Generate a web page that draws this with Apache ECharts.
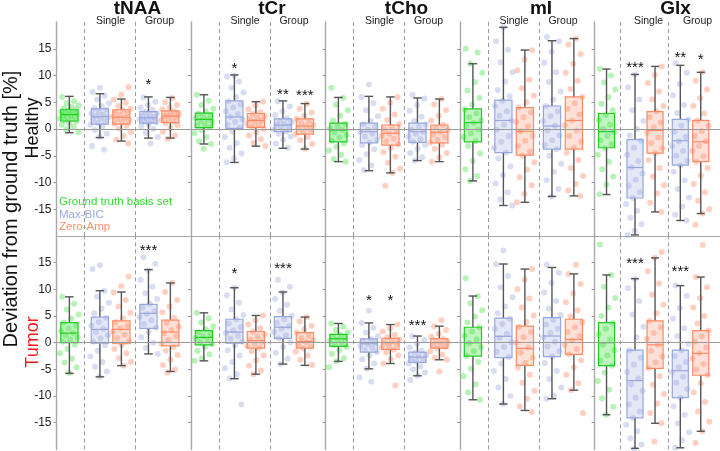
<!DOCTYPE html>
<html><head><meta charset="utf-8">
<script src="https://cdn.jsdelivr.net/npm/echarts@6/dist/echarts.min.js"></script>
<style>html,body{margin:0;padding:0;background:#fff}#c{width:720px;height:451px}</style>
</head><body><div id="c"></div>
<script>
// ---------------- DATA ----------------
const metabolites = ['tNAA', 'tCr', 'tCho', 'mI', 'Glx'];
const rowLabels = ['Healthy', 'Tumor'];
const methodLabels = ['Ground truth basis set', 'Max-BIC', 'Zero-Amp'];
const groupLabels = ['Single', 'Group'];
const yTicks = [-15, -10, -5, 0, 5, 10, 15];
// box order: ground truth, Max-BIC single, Zero-Amp single, Max-BIC group, Zero-Amp group
// box stats: [min, q1, median, q3, max]
const H_tNAA = [[-0.7,1.5,2.7,3.6,6.1],[-1.6,0.9,2.3,3.75,6.6],[-2.25,0.9,2.2,3.6,5.6],[-1.7,1.1,2.1,3.25,6.0],[-1.7,1.2,2.4,3.4,5.9]];
const H_tCr  = [[-2.8,0.25,1.8,2.95,6.4],[-6.25,0.1,2.25,5.25,10.1],[-3.2,0.3,1.6,2.9,5.1],[-3.6,-0.5,0.75,1.9,5.25],[-3.75,-0.95,0.55,1.9,4.75]];
const H_tCho = [[-6.1,-2.4,-0.2,1.1,5.9],[-7.8,-2.6,-0.5,1.1,6.1],[-8.2,-3.0,-0.8,0.75,6.0],[-5.9,-2.5,-0.5,1.1,5.8],[-6.1,-2.6,-0.6,0.75,5.6]];
const H_mI   = [[-9.7,-2.4,1.2,3.75,12.2],[-14.3,-4.4,1.6,5.4,19.0],[-13.7,-4.9,-0.45,4.0,14.75],[-12.6,-3.75,0.55,4.3,16.5],[-12.5,-3.75,1.6,6.0,16.9]];
const H_Glx  = [[-12.25,-3.5,-0.5,2.9,11.2],[-19.8,-12.9,-7.2,-2.0,10.2],[-15.5,-4.5,-0.3,3.25,11.7],[-17.1,-6.75,-2.2,1.8,11.9],[-15.8,-6.1,-2.4,1.6,10.6]];
const T_tNAA = [[-5.75,0.0,1.8,3.75,8.6],[-6.4,-0.1,2.5,4.8,9.75],[-4.3,-0.2,2.5,4.1,9.5],[-2.1,2.7,5.5,7.2,13.7],[-5.4,-0.6,2.0,4.25,11.2]];
const T_tCr  = [[-3.4,-0.4,1.0,2.25,5.6],[-6.75,-0.1,2.0,4.4,10.3],[-5.9,-1.0,0.4,2.1,5.1],[-4.0,0.8,2.9,4.9,9.5],[-4.25,-1.0,0.25,1.9,4.8]];
const T_tCho = [[-3.5,-0.7,0.75,1.55,3.6],[-4.9,-1.75,-0.2,0.7,3.7],[-3.9,-1.25,0.0,0.8,3.4],[-6.2,-3.7,-2.7,-1.75,1.25],[-3.2,-1.0,0.0,0.75,3.1]];
const T_mI   = [[-10.7,-2.5,0.0,2.9,8.75],[-11.5,-2.8,1.2,4.6,14.75],[-12.7,-4.25,-1.1,3.1,13.8],[-10.5,-2.6,1.25,4.7,14.1],[-8.9,-2.2,0.6,4.4,12.9]];
const T_Glx  = [[-13.5,-4.3,0.0,3.75,12.7],[-19.8,-14.1,-7.1,-1.4,12.0],[-15.1,-4.8,-0.4,4.1,15.9],[-19.7,-10.3,-5.25,-1.4,10.7],[-16.6,-6.1,-2.0,2.25,12.3]];

// individual points (estimated), one list per box
const H_tNAA_pts = [
 [6.0,5.2,4.8,4.4,4.1,3.9,3.7,3.5,3.3,3.1,2.9,2.8,2.7,2.6,2.4,2.2,2.0,1.8,1.6,1.4,1.1,0.8,0.4,-0.1,-0.6],
 [7.7,6.9,6.2,5.5,4.8,4.3,3.9,3.6,3.2,2.9,2.6,2.4,2.2,2.0,1.7,1.4,1.1,0.8,0.4,-0.2,-0.9,-1.5,-3.2,-3.9],
 [7.8,6.4,5.5,4.9,4.3,3.8,3.5,3.2,2.9,2.6,2.3,2.1,1.9,1.6,1.3,1.0,0.6,0.1,-0.6,-1.3,-2.0,-2.7],
 [5.9,5.1,4.5,4.0,3.6,3.2,2.9,2.6,2.4,2.2,2.0,1.8,1.6,1.4,1.2,0.9,0.5,0.0,-0.7,-1.5,-2.7],
 [5.8,5.0,4.5,4.0,3.7,3.3,3.0,2.8,2.6,2.4,2.2,2.0,1.7,1.4,1.1,0.7,0.2,-0.5,-1.2,-1.8]];
const H_tCr_pts = [
 [6.4,5.3,4.5,3.8,3.3,2.9,2.6,2.3,2.0,1.8,1.5,1.2,0.9,0.6,0.3,-0.2,-0.8,-1.5,-2.3,-2.8,-3.7],
 [10.0,9.8,8.9,7.7,6.8,6.0,5.2,4.6,4.0,3.3,2.8,2.3,1.8,1.3,0.8,0.3,-0.5,-1.5,-2.6,-3.5,-4.6,-5.5,-6.2],
 [5.1,4.4,3.7,3.2,2.8,2.4,2.1,1.8,1.6,1.3,1.0,0.7,0.4,0.0,-0.6,-1.2,-1.9,-2.6,-3.2],
 [5.2,4.2,3.3,2.6,2.0,1.6,1.3,1.0,0.8,0.5,0.2,-0.1,-0.5,-0.9,-1.4,-2.0,-2.7,-3.5],
 [4.7,3.8,3.1,2.5,1.9,1.5,1.1,0.8,0.5,0.2,-0.2,-0.6,-1.0,-1.5,-2.1,-2.8,-3.7]];
const H_tCho_pts = [
 [7.7,5.8,4.6,3.5,2.5,1.6,1.0,0.5,0.1,-0.2,-0.6,-1.1,-1.6,-2.2,-2.7,-3.3,-4.0,-4.8,-5.6,-6.1],
 [8.3,6.0,4.8,3.5,2.4,1.5,0.9,0.4,-0.1,-0.5,-0.9,-1.4,-2.0,-2.5,-3.0,-3.8,-4.7,-5.8,-6.8,-7.7],
 [6.0,4.9,3.8,2.7,1.7,0.9,0.4,-0.1,-0.5,-0.9,-1.3,-1.8,-2.3,-2.9,-3.5,-4.3,-5.2,-6.3,-7.4,-8.2,-10.6],
 [6.4,5.7,4.5,3.4,2.3,1.5,0.9,0.4,-0.1,-0.5,-0.9,-1.4,-1.9,-2.4,-3.0,-3.7,-4.5,-5.3,-5.9],
 [5.6,4.6,3.5,2.5,1.6,0.8,0.3,-0.2,-0.6,-1.0,-1.5,-2.0,-2.5,-3.0,-3.7,-4.5,-5.3,-6.1]];
const H_mI_pts = [
 [15.0,14.3,12.2,10.5,8.8,7.2,5.8,4.6,3.7,2.9,2.2,1.6,1.1,0.5,-0.1,-0.8,-1.5,-2.3,-3.2,-4.6,-6.0,-7.5,-8.8,-9.7],
 [19.0,16.4,14.8,12.5,10.6,8.9,7.3,6.1,5.3,4.3,3.3,2.5,1.6,0.8,-0.2,-1.3,-2.4,-3.5,-4.4,-5.5,-7.0,-8.6,-10.2,-11.8,-13.2,-14.3],
 [14.7,13.0,11.0,9.2,7.6,6.2,5.0,4.0,3.1,2.2,1.3,0.5,-0.4,-1.3,-2.2,-3.2,-4.2,-5.0,-6.2,-7.6,-9.0,-10.5,-12.1,-13.7],
 [17.2,16.4,14.5,12.4,10.6,8.8,7.0,5.5,4.3,3.3,2.4,1.5,0.6,-0.3,-1.2,-2.1,-3.0,-3.8,-5.0,-6.5,-8.0,-9.6,-11.2,-12.6],
 [16.9,15.8,14.0,12.2,10.5,9.0,7.5,6.0,4.8,3.8,2.7,1.6,0.7,-0.3,-1.3,-2.4,-3.5,-4.5,-5.8,-7.3,-8.8,-10.3,-11.5,-12.5]];
const H_Glx_pts = [
 [11.2,10.0,8.7,7.4,6.0,4.7,3.5,2.6,1.7,0.8,0.0,-0.6,-1.3,-2.1,-2.9,-3.6,-4.8,-6.1,-7.5,-8.9,-10.4,-12.2],
 [10.2,7.8,5.5,3.5,1.5,0.0,-1.2,-2.2,-3.5,-4.8,-6.0,-7.2,-8.3,-9.5,-10.6,-11.8,-12.9,-14.0,-15.3,-16.6,-17.8,-19.0,-19.8],
 [11.7,10.1,8.6,7.0,5.5,4.3,3.3,2.2,1.2,0.3,-0.7,-1.6,-2.6,-3.6,-4.5,-5.8,-7.3,-8.9,-10.5,-12.0,-13.8,-15.5],
 [12.3,10.5,8.4,6.3,4.5,3.0,1.8,0.6,-0.5,-1.5,-2.3,-3.2,-4.1,-5.0,-6.0,-6.8,-8.0,-9.6,-11.2,-12.8,-14.5,-16.0,-17.1],
 [10.6,9.0,7.4,5.8,4.3,2.9,1.6,0.6,-0.4,-1.3,-2.3,-3.2,-4.1,-5.1,-6.1,-7.3,-8.7,-10.3,-11.8,-13.4,-15.0,-15.8,-17.9]];
const T_tNAA_pts = [
 [8.6,7.3,6.2,5.3,4.5,3.8,3.2,2.7,2.2,1.8,1.4,1.0,0.6,0.2,-0.4,-1.2,-2.0,-3.0,-3.7,-4.6,-5.7],
 [14.5,13.8,9.7,8.6,7.5,6.4,5.5,4.7,3.9,3.2,2.6,2.0,1.4,0.8,0.2,-0.5,-1.5,-2.6,-3.6,-4.5,-5.4,-6.4],
 [12.4,10.6,9.4,8.0,6.8,5.6,4.6,3.9,3.2,2.7,2.1,1.5,0.9,0.3,-0.4,-1.2,-2.0,-2.9,-3.6,-4.3],
 [16.0,14.8,13.6,11.8,10.5,9.3,8.2,7.3,6.6,5.9,5.4,4.8,4.2,3.5,2.8,2.0,1.0,0.0,-1.0,-2.1],
 [11.2,9.5,8.0,6.8,5.7,4.7,3.8,3.0,2.4,1.8,1.2,0.5,-0.2,-0.8,-1.5,-2.3,-3.2,-4.2,-5.0,-5.6]];
const T_tCr_pts = [
 [5.6,4.6,3.8,3.1,2.5,2.0,1.6,1.2,0.9,0.5,0.1,-0.3,-0.8,-1.5,-2.2,-2.9,-3.4],
 [10.3,8.9,7.5,6.2,5.2,4.4,3.6,2.9,2.3,1.8,1.3,0.8,0.2,-0.5,-1.4,-2.4,-3.6,-4.8,-5.9,-6.7,-11.6],
 [5.1,4.2,3.4,2.7,2.1,1.6,1.1,0.6,0.2,-0.2,-0.6,-1.0,-1.6,-2.4,-3.3,-4.3,-5.2,-5.9],
 [11.8,10.5,9.4,8.2,7.1,6.0,5.1,4.4,3.7,3.1,2.6,2.0,1.4,0.8,0.1,-0.8,-1.9,-3.0,-4.0],
 [4.8,4.0,3.2,2.5,1.9,1.3,0.9,0.5,0.1,-0.3,-0.7,-1.1,-1.7,-2.4,-3.2,-4.2]];
const T_tCho_pts = [
 [3.6,3.0,2.4,1.9,1.5,1.2,0.9,0.6,0.3,0.0,-0.4,-0.8,-1.4,-2.1,-2.9,-3.5,-4.6],
 [6.0,3.7,2.8,1.9,1.2,0.7,0.3,0.0,-0.3,-0.6,-1.0,-1.4,-1.8,-2.4,-3.1,-3.9,-4.9,-6.5,-7.3],
 [3.4,2.7,2.1,1.5,1.0,0.6,0.3,0.0,-0.3,-0.6,-0.9,-1.3,-1.8,-2.4,-3.1,-3.9,-8.0],
 [1.2,0.5,-0.2,-0.9,-1.5,-1.9,-2.3,-2.6,-2.9,-3.2,-3.5,-3.9,-4.4,-5.0,-5.6,-6.2,-7.0],
 [4.2,3.1,2.4,1.7,1.1,0.7,0.4,0.1,-0.2,-0.5,-0.8,-1.1,-1.6,-2.2,-2.8,-3.2,-5.4]];
const T_mI_pts = [
 [12.1,8.7,7.4,6.1,4.9,3.8,2.9,2.1,1.3,0.6,-0.1,-0.8,-1.6,-2.5,-3.6,-4.9,-6.3,-7.8,-9.3,-10.7],
 [17.3,14.7,12.5,10.4,8.5,6.8,5.5,4.5,3.5,2.6,1.7,0.9,0.1,-0.8,-1.7,-2.7,-3.9,-5.3,-6.8,-8.4,-10.0,-11.5],
 [13.8,11.8,10.0,8.3,6.6,5.1,3.9,3.0,2.0,1.0,0.0,-0.9,-1.9,-2.8,-3.8,-4.7,-6.0,-7.5,-9.0,-10.5,-11.9,-13.0],
 [14.6,13.1,11.2,9.4,7.8,6.4,5.2,4.3,3.4,2.6,1.8,1.0,0.2,-0.7,-1.6,-2.6,-3.8,-5.3,-6.8,-8.4,-9.9,-10.5],
 [14.6,12.9,11.0,9.2,7.6,6.1,4.9,3.8,2.9,2.0,1.2,0.4,-0.4,-1.2,-2.2,-3.3,-4.6,-6.0,-7.6,-8.9,-13.2]];
const T_Glx_pts = [
 [18.4,12.7,10.5,8.4,6.6,5.0,3.7,2.6,1.6,0.6,-0.4,-1.4,-2.4,-3.4,-4.3,-5.6,-7.2,-8.8,-10.4,-12.0,-13.5],
 [12.0,10.2,7.8,5.3,3.0,1.0,-1.4,-2.8,-4.1,-5.5,-6.7,-7.8,-9.0,-10.3,-11.6,-12.9,-14.1,-15.4,-16.6,-17.9,-19.1,-19.9],
 [17.0,15.9,13.4,11.1,9.0,7.1,5.5,4.1,2.9,1.8,0.7,-0.4,-1.5,-2.6,-3.7,-4.8,-6.3,-7.9,-9.6,-11.4,-13.2,-15.1,-18.5],
 [10.7,8.8,6.5,4.5,2.7,1.2,-0.2,-1.4,-2.5,-3.6,-4.6,-5.5,-6.4,-7.5,-8.7,-10.3,-11.9,-13.5,-15.1,-16.8,-18.3,-19.7],
 [18.3,12.3,10.4,8.4,6.6,5.0,3.6,2.3,1.2,0.2,-0.9,-2.0,-3.0,-4.0,-5.0,-6.1,-7.6,-9.3,-11.1,-12.9,-14.8,-16.6,-18.8]];

// significance markers: [metabolite index, box index, text, y value]
const H_stars = [[0,3,'*',9.0],[1,1,'*',12.0],[1,3,'**',7.2],[1,4,'***',7.0],[4,1,'***',12.25],[4,3,'**',14.1],[4,4,'*',13.7]];
const T_stars = [[0,3,'***',17.9],[1,1,'*',13.6],[1,3,'***',14.5],[2,1,'*',8.6],[2,2,'*',8.6],[2,3,'***',4.0],[4,1,'***',15.6],[4,3,'***',14.1]];

// ---------------- LAYOUT / STYLE ----------------
const rowBoxes = [[H_tNAA,H_tCr,H_tCho,H_mI,H_Glx],[T_tNAA,T_tCr,T_tCho,T_mI,T_Glx]];
const rowPts = [[H_tNAA_pts,H_tCr_pts,H_tCho_pts,H_mI_pts,H_Glx_pts],[T_tNAA_pts,T_tCr_pts,T_tCho_pts,T_mI_pts,T_Glx_pts]];
const rowStars = [H_stars, T_stars];
const boxX = [0.6, 2.02, 3.02, 4.28, 5.3];
const dashX = [1.3, 3.67];
const XMAX = 6.26;
const PANEL_L = 56.5, PANEL_W = 134.5;
const rowTop = [22, 236], rowH = [214, 213.4];
const methodOf = [0, 1, 2, 1, 2];
const strokeC = ['#1fcf1f', '#97a6dc', '#ff8a62'];
const fillC = ['rgba(60,225,60,0.32)', 'rgba(150,165,222,0.26)', 'rgba(255,140,100,0.26)'];
const ptC = ['rgba(55,220,55,0.45)', 'rgba(140,155,215,0.42)', 'rgba(255,125,85,0.45)'];
const FONT = 'Liberation Sans, Arial, sans-serif';

const grids = [], xAxes = [], yAxes = [], series = [];
for (let r = 0; r < 2; r++) {
  for (let m = 0; m < 5; m++) {
    const g = r * 5 + m;
    grids.push({left: PANEL_L + m * PANEL_W, top: rowTop[r], width: PANEL_W, height: rowH[r]});
    xAxes.push({type: 'value', gridIndex: g, min: 0, max: XMAX,
      axisLine: {show: r === 0, onZero: false, lineStyle: {color: '#a8a8a8', width: 1.2}},
      axisTick: {show: false}, axisLabel: {show: false}, splitLine: {show: false}});
    yAxes.push({type: 'value', gridIndex: g, min: -20, max: 20, interval: 5,
      axisLine: {show: true, onZero: false, lineStyle: {color: '#a8a8a8', width: 1.4}},
      axisTick: {show: true, length: 3, customValues: yTicks, lineStyle: {color: '#999'}},
      axisLabel: {show: m === 0, customValues: yTicks, fontSize: 12, color: '#222', margin: 5, fontFamily: FONT},
      splitLine: {show: false}});
    // points
    const pdata = [];
    rowPts[r][m].forEach((arr, bi) => {
      arr.forEach((v, k) => {
        const jit = (((k * 0.6180339887 + bi * 0.37 + 0.13) % 1) - 0.5) * 0.9;
        pdata.push({value: [boxX[bi] + jit, v], itemStyle: {color: ptC[methodOf[bi]]}});
      });
    });
    series.push({type: 'scatter', xAxisIndex: g, yAxisIndex: g, data: pdata, symbolSize: 6, z: 2, silent: true,
      markLine: {silent: true, symbol: 'none', label: {show: false}, animation: false,
        data: [
          {yAxis: 0, lineStyle: {color: '#9a9a9a', type: 'solid', width: 1}},
          {xAxis: dashX[0], lineStyle: {color: '#9a9a9a', type: [4, 3], width: 1}},
          {xAxis: dashX[1], lineStyle: {color: '#9a9a9a', type: [4, 3], width: 1}}
        ]}});
    // boxes
    series.push({type: 'custom', xAxisIndex: g, yAxisIndex: g, z: 3, silent: true,
      data: rowBoxes[r][m].map((b, bi) => [boxX[bi], b[0], b[1], b[2], b[3], b[4], bi]),
      encode: {x: 0, y: [1, 5]},
      renderItem: function (params, api) {
        const x = api.value(0), mn = api.value(1), q1 = api.value(2), md = api.value(3), q3 = api.value(4), mx = api.value(5);
        const mi = methodOf[api.value(6)];
        const hw = 0.4, cw = 0.2;
        const P = (a, b) => api.coord([a, b]);
        const tl = P(x - hw, q3), br = P(x + hw, q1);
        const top = P(x, mx), bot = P(x, mn), q3p = P(x, q3), q1p = P(x, q1);
        const mL = P(x - hw, md), mR = P(x + hw, md);
        const cTL = P(x - cw, mx), cTR = P(x + cw, mx), cBL = P(x - cw, mn), cBR = P(x + cw, mn);
        const ws = {stroke: '#555', lineWidth: 1.4};
        return {type: 'group', children: [
          {type: 'line', shape: {x1: top[0], y1: top[1], x2: q3p[0], y2: q3p[1]}, style: ws},
          {type: 'line', shape: {x1: q1p[0], y1: q1p[1], x2: bot[0], y2: bot[1]}, style: ws},
          {type: 'line', shape: {x1: cTL[0], y1: cTL[1], x2: cTR[0], y2: cTR[1]}, style: ws},
          {type: 'line', shape: {x1: cBL[0], y1: cBL[1], x2: cBR[0], y2: cBR[1]}, style: ws},
          {type: 'rect', shape: {x: tl[0], y: tl[1], width: br[0] - tl[0], height: br[1] - tl[1]},
            style: {fill: fillC[mi], stroke: strokeC[mi], lineWidth: 1.2}},
          {type: 'line', shape: {x1: mL[0], y1: mL[1], x2: mR[0], y2: mR[1]}, style: {stroke: strokeC[mi], lineWidth: 1.2}}
        ]};
      }});
    // stars
    const sdata = rowStars[r].filter(s => s[0] === m).map(s => [boxX[s[1]], s[3], s[2]]);
    if (sdata.length) {
      series.push({type: 'custom', xAxisIndex: g, yAxisIndex: g, z: 4, silent: true, data: sdata,
        encode: {x: 0, y: 1},
        renderItem: function (params, api) {
          const p = api.coord([api.value(0), api.value(1)]);
          return {type: 'text', x: p[0], y: p[1] + 4,
            style: {text: sdata[params.dataIndex][2], fontSize: 15, fill: '#111', align: 'center', verticalAlign: 'middle', fontFamily: FONT}};
        }});
    }
  }
}

// graphic texts
const graphic = [];
metabolites.forEach((name, m) => {
  const L = PANEL_L + m * PANEL_W;
  graphic.push({type: 'text', x: L + 81, y: 9, style: {text: name, fontSize: 19, fontWeight: 'bold', fill: '#111', align: 'center', verticalAlign: 'middle', fontFamily: FONT}});
  graphic.push({type: 'text', x: L + 54, y: 21.5, style: {text: groupLabels[0], fontSize: 10.5, fill: '#222', align: 'center', verticalAlign: 'middle', fontFamily: FONT}});
  graphic.push({type: 'text', x: L + 103, y: 21.5, style: {text: groupLabels[1], fontSize: 10.5, fill: '#222', align: 'center', verticalAlign: 'middle', fontFamily: FONT}});
});
graphic.push({type: 'text', x: 11, y: 209, rotation: Math.PI / 2, style: {text: 'Deviation from ground truth [%]', fontSize: 20, fill: '#111', align: 'center', verticalAlign: 'middle', fontFamily: FONT}});
graphic.push({type: 'text', x: 33, y: 128, rotation: Math.PI / 2, style: {text: rowLabels[0], fontSize: 18, fill: '#111', align: 'center', verticalAlign: 'middle', fontFamily: FONT}});
graphic.push({type: 'text', x: 33, y: 342, rotation: Math.PI / 2, style: {text: rowLabels[1], fontSize: 18, fill: '#ff1a1a', align: 'center', verticalAlign: 'middle', fontFamily: FONT}});
const legC = ['#33dd33', '#9aa9dd', '#ff9070'];
methodLabels.forEach((t, i) => {
  graphic.push({type: 'text', x: 59, y: 202 + i * 12.5, style: {text: t, fontSize: 11.5, fill: legC[i], align: 'left', verticalAlign: 'middle', fontFamily: FONT}});
});

const chart = echarts.init(document.getElementById('c'), null, {renderer: 'canvas'});
chart.setOption({animation: false, backgroundColor: '#fff', grid: grids, xAxis: xAxes, yAxis: yAxes, series: series, graphic: graphic});
</script></body></html>
